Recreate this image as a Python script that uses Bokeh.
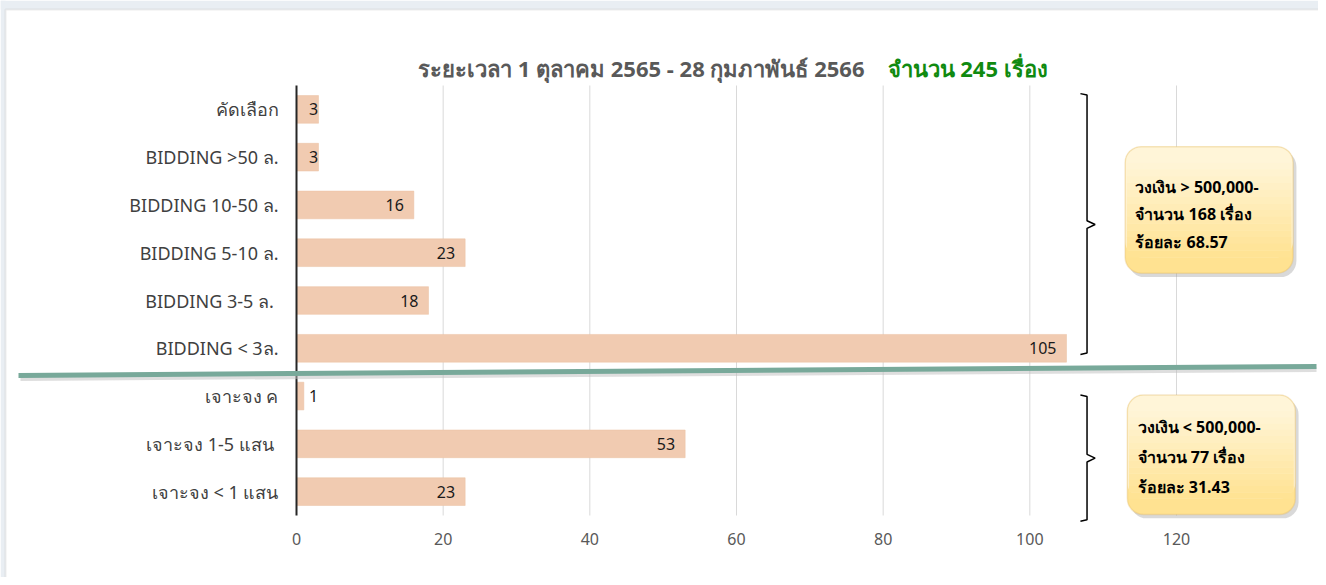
import numpy as np
from bokeh.plotting import figure
from bokeh.models import (Range1d, FixedTicker, Label, BoxAnnotation, Arrow,
                          ColumnDataSource)
from bokeh.core.properties import value
from bokeh.embed import file_html
from bokeh.resources import INLINE

# ---- data ----
categories = ["คัดเลือก", "BIDDING >50 ล.", "BIDDING 10-50 ล.", "BIDDING 5-10 ล.",
              "BIDDING  3-5 ล.", "BIDDING < 3ล.", "เจาะจง ค", "เจาะจง 1-5  แสน",
              "เจาะจง < 1 แสน"]
counts = [3, 3, 16, 23, 18, 105, 1, 53, 23]
x_ticks = [0, 20, 40, 60, 80, 100, 120]
title_main = "ระยะเวลา 1 ตุลาคม 2565 - 28 กุมภาพันธ์ 2566"
title_total = "จำนวน 245 เรื่อง"
box_top_lines = ["วงเงิน > 500,000-", "จำนวน  168 เรื่อง", "ร้อยละ 68.57"]
box_bottom_lines = ["วงเงิน < 500,000-", "จำนวน 77 เรื่อง", "ร้อยละ 31.43"]

FONT = "Noto Sans"
W, H = 1318, 577

# pixel geometry of the plotting area (axis at x=296, rows from 85 to 515)
KX = (1176 - 296) / 120.0
KY = (515 - 85) / 9.0
x0_px, top_px, bot_px = 296, 85, 515

ypos = list(range(len(categories)))
n = len(categories)
p = figure(width=W, height=H, output_backend="svg", toolbar_location=None,
           x_range=Range1d(-x0_px / KX, (W - x0_px) / KX),
           y_range=Range1d(n - 0.5 + (H - bot_px) / KY, -0.5 - top_px / KY),
           min_border_left=0, min_border_right=0, min_border_top=0,
           min_border_bottom=0)
p.outline_line_color = None
p.background_fill_color = "white"
p.border_fill_color = "white"
p.xgrid.visible = False
p.ygrid.visible = False

CU = dict(left_units="canvas", right_units="canvas", top_units="canvas", bottom_units="canvas")
# page border decoration
p.add_layout(BoxAnnotation(left=0, right=W, top=0, bottom=9, fill_color="#E9EEF3",
                           fill_alpha=1.0, line_color=None, **CU))
p.add_layout(BoxAnnotation(left=0, right=5, top=0, bottom=H, fill_color="#E9EEF3",
                           fill_alpha=1.0, line_color=None, **CU))
p.add_layout(BoxAnnotation(left=5, right=W + 20, top=9, bottom=H + 20, fill_color=None,
                           line_color="#C4C4C4", line_width=2, **CU))

# vertical grid lines
gx = x_ticks[1:]
p.segment(x0=gx, x1=gx, y0=[-0.5] * len(gx), y1=[n - 0.5] * len(gx),
          line_color="#D9D9D9", line_width=1)

src = ColumnDataSource(dict(y=ypos, v=counts, lx=list(np.maximum(np.array(counts), 4.3)),
                            t=[str(c) for c in counts]))
p.hbar(y="y", right="v", left=0, height=0.58, source=src,
       fill_color="#F1CBB1", line_color="#EBC0A3", line_width=0.5)
p.text(x="lx", y="y", text="t", source=src, x_offset=-10, text_align="right",
       text_baseline="middle", text_font=value(FONT), text_font_size="16px",
       text_color="#1a1a1a")

# axes
p.xaxis.fixed_location = n - 0.5
p.xaxis.bounds = (0, 120)
p.xaxis.ticker = FixedTicker(ticks=x_ticks)
p.xaxis.axis_line_color = None
p.xaxis.major_tick_line_color = None
p.xaxis.minor_tick_line_color = None
p.xaxis.major_tick_out = 0
p.xaxis.major_label_standoff = 17
p.xaxis.major_label_text_font = FONT
p.xaxis.major_label_text_font_size = "16px"
p.xaxis.major_label_text_color = "#595959"

p.yaxis.fixed_location = 0
p.yaxis.bounds = (-0.5, n - 0.5)
p.yaxis.ticker = FixedTicker(ticks=ypos)
p.yaxis.major_label_overrides = {i: c for i, c in enumerate(categories)}
p.yaxis.axis_line_color = "#262626"
p.yaxis.axis_line_width = 2
p.yaxis.major_tick_line_color = None
p.yaxis.minor_tick_line_color = None
p.yaxis.major_tick_out = 0
p.yaxis.major_label_standoff = 18
p.yaxis.major_label_text_font = FONT
p.yaxis.major_label_text_font_size = "18px"
p.yaxis.major_label_text_color = "#404040"

# title (two colours)
p.add_layout(Label(x=864, y=67, x_units="canvas", y_units="canvas", text=title_main,
                   text_align="right", text_baseline="middle", text_font=FONT,
                   text_font_size="22px", text_font_style="bold", text_color="#595959"))
p.add_layout(Label(x=887, y=67, x_units="canvas", y_units="canvas", text=title_total,
                   text_align="left", text_baseline="middle", text_font=FONT,
                   text_font_size="22px", text_font_style="bold", text_color="#108A10"))

# separator line
p.add_layout(Arrow(end=None, x_start=20, y_start=378, x_end=1316, y_end=369,
                   start_units="canvas", end_units="canvas",
                   line_color="#BEBEBE", line_width=5, line_alpha=0.5))
p.add_layout(Arrow(end=None, x_start=18, y_start=375, x_end=1316, y_end=366,
                   start_units="canvas", end_units="canvas",
                   line_color="#78A99A", line_width=5))

# braces
bx = [106.9, 107.8, 107.8, 108.9, 107.8, 107.8, 106.9]
p.line(x=bx, y=[-0.33, -0.30, 2.33, 2.41, 2.49, 5.10, 5.13], line_color="black", line_width=1.5)
p.line(x=bx, y=[5.98, 6.01, 7.22, 7.30, 7.38, 8.59, 8.62], line_color="black", line_width=1.5)


# callout boxes with a vertical light-to-deeper yellow shading
def mix(c1, c2, f):
    a = [int(c1[i:i + 2], 16) for i in (1, 3, 5)]
    b = [int(c2[i:i + 2], 16) for i in (1, 3, 5)]
    return "#%02x%02x%02x" % tuple(round(a[k] + (b[k] - a[k]) * f) for k in range(3))


def callout(l, r, t, b, lines, ys):
    rad = 16
    ry = rad / KY
    inset = 1.5 / KX
    ctop, cbot = "#FFF5D8", "#FFE291"
    p.add_layout(BoxAnnotation(left=l + 0.45, right=r + 0.45, top=t + 0.08, bottom=b + 0.08,
                               fill_color="#a0a0a0", fill_alpha=0.4, line_color=None,
                               border_radius=rad, level="annotation"))
    p.add_layout(BoxAnnotation(left=l, right=r, top=t, bottom=b, fill_color=cbot,
                               fill_alpha=1.0, line_color=None, border_radius=rad,
                               level="annotation"))
    p.add_layout(BoxAnnotation(left=l, right=r, top=t, bottom=b - ry, fill_color=ctop,
                               fill_alpha=1.0, line_color=None, border_radius=rad,
                               level="annotation"))
    nb = 14
    y_a, y_b = t + ry, b - ry
    for k in range(nb):
        p.add_layout(BoxAnnotation(left=l + inset, right=r - inset,
                                   top=y_a + (y_b - y_a) * k / nb,
                                   bottom=y_a + (y_b - y_a) * (k + 1) / nb + 0.005,
                                   fill_color=mix(ctop, cbot, (k + 0.5) / nb),
                                   fill_alpha=1.0, line_color=None, level="annotation"))
    p.add_layout(BoxAnnotation(left=l, right=r, top=t, bottom=b, fill_color=None,
                               line_color="#DDB458", line_width=1.5, border_radius=rad,
                               level="annotation"))
    for txt, yy in zip(lines, ys):
        p.add_layout(Label(x=l + 1.4, y=yy, text=txt, text_align="left",
                           text_baseline="middle", text_font=FONT, text_font_size="16px",
                           text_font_style="bold", text_color="black"))


callout(113.0, 135.9, 0.78, 3.43, box_top_lines, [1.63, 2.18, 2.77])
callout(113.3, 136.2, 5.98, 8.48, box_bottom_lines, [6.65, 7.27, 7.9])

open("out.html", "w").write(file_html(p, INLINE))
